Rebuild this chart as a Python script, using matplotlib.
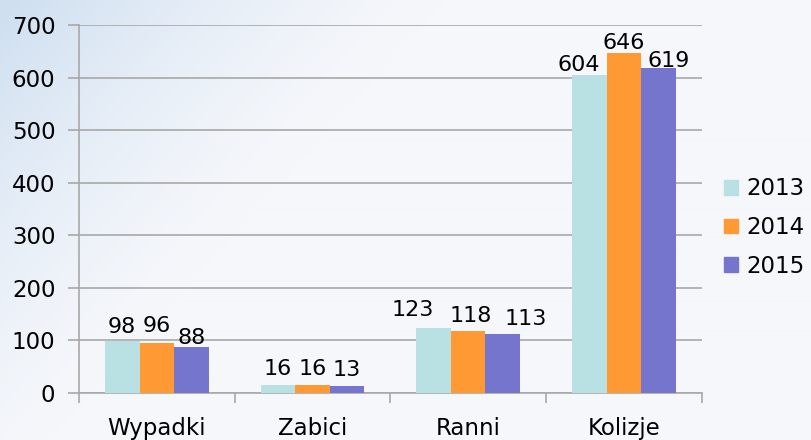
import numpy as np
import matplotlib.pyplot as plt
from matplotlib.patches import Patch

categories = ['Wypadki', 'Zabici', 'Ranni', 'Kolizje']
years = ['2013', '2014', '2015']
values_2013 = [98, 16, 123, 604]
values_2014 = [96, 16, 118, 646]
values_2015 = [88, 13, 113, 619]
colors = ['#b9e0e3', '#ff9933', '#7575ce']

# hand placed data labels (pixel offsets from bar top centre)
label_dx = [[0, 0, -21, -11], [0, 0, 3, 0], [0, 0, 23, 10]]
label_dy = [[14, 16, 18, 10], [17, 16, 15, 10], [9, 16, 15, 7]]

fig = plt.figure(figsize=(8.11, 4.40), dpi=100)

# soft background
bg = fig.add_axes([0, 0, 1, 1], zorder=-10)
h, w = 440, 811
yy, xx = np.mgrid[0:h, 0:w]
d = (xx + 0.9 * yy) / w
blue = np.clip(1 - d / 0.55, 0, 1) ** 1.5
base = np.array([245, 247, 251]) / 255.0
tint = np.array([205, 222, 240]) / 255.0
img = base[None, None, :] * (1 - blue[..., None]) + tint[None, None, :] * blue[..., None]
bg.imshow(img, aspect='auto', extent=[0, 1, 0, 1])
bg.axis('off')

ax = fig.add_axes([0.0974, 0.1068, 0.7678, 0.8364])
ax.patch.set_alpha(0)

x = np.arange(len(categories))
width = 0.2222
series = [values_2013, values_2014, values_2015]
for i, (vals, col) in enumerate(zip(series, colors)):
    pos = x + (i - 1) * width
    ax.bar(pos, vals, width, color=col, label=years[i], zorder=3)
    for j, v in enumerate(vals):
        ax.annotate(str(v), (pos[j], v), xytext=(label_dx[i][j], label_dy[i][j]),
                    textcoords='offset pixels', ha='center', va='center',
                    fontsize=16, color='black')

ax.set_xlim(-0.5, 3.5)
ax.set_ylim(0, 700)
ax.set_yticks(range(0, 701, 100))
ax.grid(axis='y', color='#a8a8a8', linewidth=1.2, zorder=0)
ax.set_xticks(x)
ax.set_xticklabels(categories)
ax.set_xticks(np.arange(-0.5, 4, 1), minor=True)
ax.tick_params(axis='x', which='major', length=0, pad=17, labelsize=16.5)
ax.tick_params(axis='x', which='minor', length=7, color='#a8a8a8', width=1.2)
ax.tick_params(axis='y', length=8, color='#a8a8a8', width=1.2, pad=9, labelsize=16.5)
for s in ['top', 'right']:
    ax.spines[s].set_visible(False)
for s in ['left', 'bottom']:
    ax.spines[s].set_color('#a8a8a8')
    ax.spines[s].set_linewidth(1.2)

handles = [Patch(color=c) for c in colors]
ax.legend(handles, years, loc='center left', bbox_to_anchor=(0.893, 0.483),
          bbox_transform=fig.transFigure, frameon=False, fontsize=16.5,
          handlelength=0.6, handleheight=0.6, handletextpad=0.35,
          labelspacing=0.68, borderaxespad=0, borderpad=0)

fig.savefig('out.png', dpi=100)
